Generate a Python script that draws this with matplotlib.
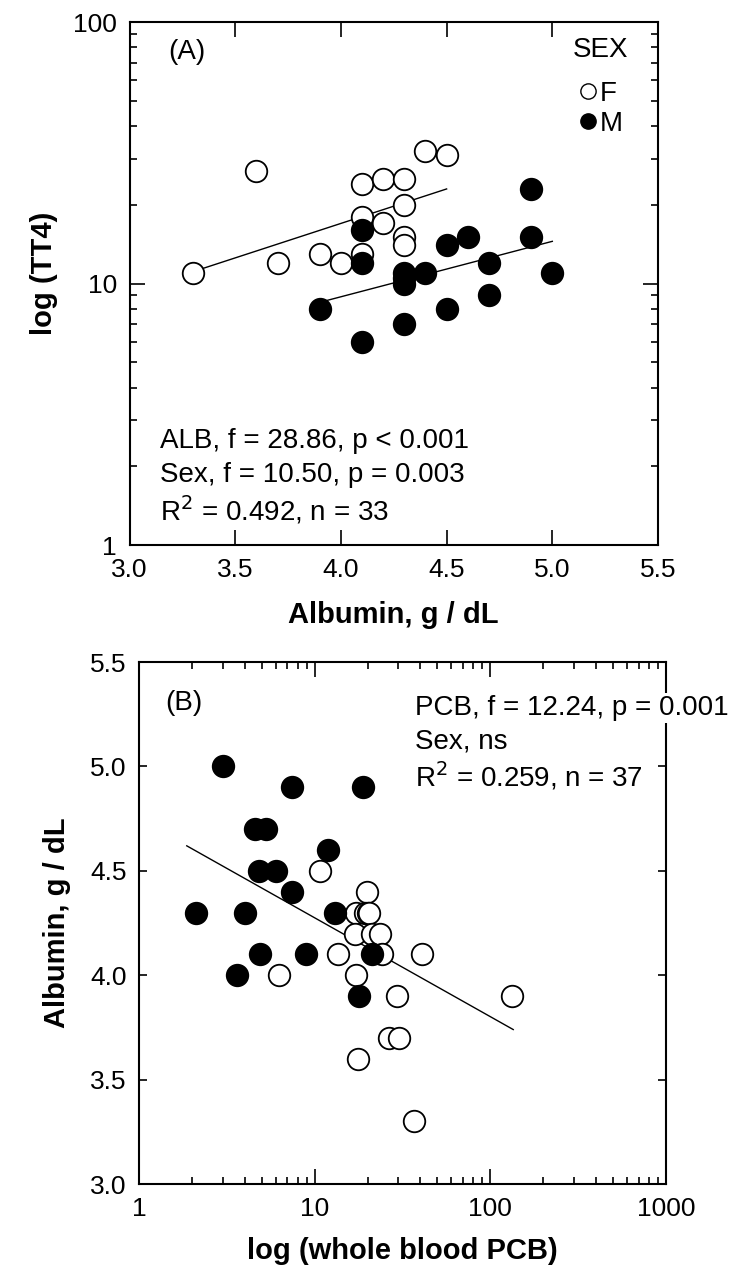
import matplotlib
matplotlib.use("Agg")
import matplotlib.pyplot as plt
from matplotlib.lines import Line2D
from matplotlib.ticker import LogLocator, NullFormatter, FixedLocator, FormatStrFormatter

plt.rcParams['font.family'] = ['Liberation Sans', 'DejaVu Sans']

# ---- panel A data: albumin vs TT4 ----
a_f_alb = [3.3, 3.6, 3.7, 3.9, 4.0, 4.1, 4.2, 4.3, 4.4, 4.5, 4.3, 4.1, 4.2, 4.3, 4.3, 4.1]
a_f_tt4 = [11, 27, 12, 13, 12, 24, 25, 25, 32, 31, 20, 18, 17, 15, 14, 13]
a_m_alb = [4.9, 4.1, 4.6, 4.5, 4.9, 4.1, 4.3, 4.4, 4.7, 5.0, 4.3, 3.9, 4.5, 4.7, 4.3, 4.1, 4.3]
a_m_tt4 = [23, 16, 15, 14, 15, 12, 11, 11, 12, 11, 10, 8, 8, 9, 7, 6, 10.5]
a_fit_f_x = [3.3, 4.5]
a_fit_f_y = [11.1, 23.0]
a_fit_m_x = [3.93, 5.0]
a_fit_m_y = [8.6, 14.5]

# ---- panel B data: PCB vs albumin ----
b_m_pcb = [3.0, 7.4, 18.9, 4.6, 5.3, 11.9, 4.8, 6.0, 7.4, 2.1, 4.0, 13.0, 4.9, 8.9, 21.1, 3.6, 17.9]
b_m_alb = [5.0, 4.9, 4.9, 4.7, 4.7, 4.6, 4.5, 4.5, 4.4, 4.3, 4.3, 4.3, 4.1, 4.1, 4.1, 4.0, 3.9]
b_f_pcb = [10.7, 19.9, 17.3, 19.3, 20.0, 20.3, 16.9, 21.1, 23.5, 13.6, 24.1, 40.6, 6.3, 17.3,
           29.3, 132, 26.6, 30.2, 17.7, 36.9]
b_f_alb = [4.5, 4.4, 4.3, 4.3, 4.3, 4.3, 4.2, 4.2, 4.2, 4.1, 4.1, 4.1, 4.0, 4.0,
           3.9, 3.9, 3.7, 3.7, 3.6, 3.3]
b_fit_x = [1.87, 135]
b_fit_y = [4.62, 3.74]

text_a = ["ALB, f = 28.86, p < 0.001", "Sex, f = 10.50, p = 0.003", "R$^2$ = 0.492, n = 33"]
text_b = ["PCB, f = 12.24, p = 0.001", "Sex, ns", "R$^2$ = 0.259, n = 37"]

MS = 15.5
TICK_FS = 19
LAB_FS = 21
ANN_FS = 20

fig = plt.figure(figsize=(7.41, 12.74), dpi=100)
axA = fig.add_axes([0.1748, 0.5722, 0.7132, 0.4105])
axB = fig.add_axes([0.1876, 0.0706, 0.7112, 0.4097])


def style(ax):
    for s in ax.spines.values():
        s.set_linewidth(1.5)
    ax.tick_params(which='both', direction='in', top=True, right=True,
                   labelsize=TICK_FS, width=1.2, pad=9)
    ax.tick_params(which='major', length=11)
    ax.tick_params(which='minor', length=5)


# panel A
axA.plot(a_f_alb, a_f_tt4, 'o', ms=MS, mfc='white', mec='black', mew=1.3, zorder=3)
axA.plot(a_m_alb, a_m_tt4, 'o', ms=MS, mfc='black', mec='black', mew=1.3, zorder=3)
axA.plot(a_fit_f_x, a_fit_f_y, '-', color='black', lw=1.0, zorder=2)
axA.plot(a_fit_m_x, a_fit_m_y, '-', color='black', lw=1.0, zorder=2)
axA.set_yscale('log')
axA.set_xlim(3.0, 5.5)
axA.set_ylim(1, 100)
axA.xaxis.set_major_locator(FixedLocator([3.0, 3.5, 4.0, 4.5, 5.0, 5.5]))
axA.xaxis.set_major_formatter(FormatStrFormatter('%.1f'))
axA.yaxis.set_major_locator(FixedLocator([1, 10, 100]))
axA.yaxis.set_major_formatter(FormatStrFormatter('%g'))
axA.yaxis.set_minor_locator(LogLocator(base=10, subs=range(2, 10)))
axA.yaxis.set_minor_formatter(NullFormatter())
style(axA)
axA.set_xlabel('Albumin, g / dL', fontsize=LAB_FS, fontweight='bold', labelpad=14)
axA.set_ylabel('log (TT4)', fontsize=LAB_FS, fontweight='bold')
axA.yaxis.set_label_coords(-0.135, 0.52)
axA.text(0.073, 0.943, '(A)', transform=axA.transAxes, fontsize=ANN_FS, va='center')
for i, t in enumerate(text_a):
    axA.text(0.058, 0.199 - i * 0.066, t, transform=axA.transAxes, fontsize=ANN_FS, va='center')

axA.text(0.839, 0.946, 'SEX', transform=axA.transAxes, fontsize=ANN_FS, va='center')
handles = [Line2D([], [], ls='', marker='o', ms=11, mfc='white', mec='black', mew=1.0, label='F'),
           Line2D([], [], ls='', marker='o', ms=11, mfc='black', mec='black', label='M')]
axA.legend(handles=handles, loc='center left', bbox_to_anchor=(0.851, 0.834), frameon=False,
           fontsize=ANN_FS, handlelength=0.6, handletextpad=0.15, labelspacing=0.12,
           borderpad=0, borderaxespad=0)

# panel B
axB.plot(b_f_pcb, b_f_alb, 'o', ms=MS, mfc='white', mec='black', mew=1.3, zorder=3)
axB.plot(b_m_pcb, b_m_alb, 'o', ms=MS, mfc='black', mec='black', mew=1.3, zorder=4)
axB.plot(b_fit_x, b_fit_y, '-', color='black', lw=1.0, zorder=2)
axB.set_xscale('log')
axB.set_xlim(1, 1000)
axB.set_ylim(3.0, 5.5)
axB.xaxis.set_major_locator(FixedLocator([1, 10, 100, 1000]))
axB.xaxis.set_major_formatter(FormatStrFormatter('%g'))
axB.xaxis.set_minor_locator(LogLocator(base=10, subs=range(2, 10)))
axB.xaxis.set_minor_formatter(NullFormatter())
axB.yaxis.set_major_locator(FixedLocator([3.0, 3.5, 4.0, 4.5, 5.0, 5.5]))
axB.yaxis.set_major_formatter(FormatStrFormatter('%.1f'))
style(axB)
axB.tick_params(axis='y', which='major', length=6)
axB.set_xlabel('log (whole blood PCB)', fontsize=LAB_FS, fontweight='bold', labelpad=12)
axB.set_ylabel('Albumin, g / dL', fontsize=LAB_FS, fontweight='bold')
axB.yaxis.set_label_coords(-0.13, 0.5)
axB.text(0.049, 0.921, '(B)', transform=axB.transAxes, fontsize=ANN_FS, va='center')
# stats block runs past the right edge; put it on the figure so it hides the frame
for i, t in enumerate(text_b):
    fig.text(0.524, 0.912 - i * 0.065, t, transform=axB.transAxes, fontsize=ANN_FS,
             va='center', zorder=5,
             bbox=dict(facecolor='white', edgecolor='none', pad=1.5))

fig.savefig('out.png', dpi=100)
